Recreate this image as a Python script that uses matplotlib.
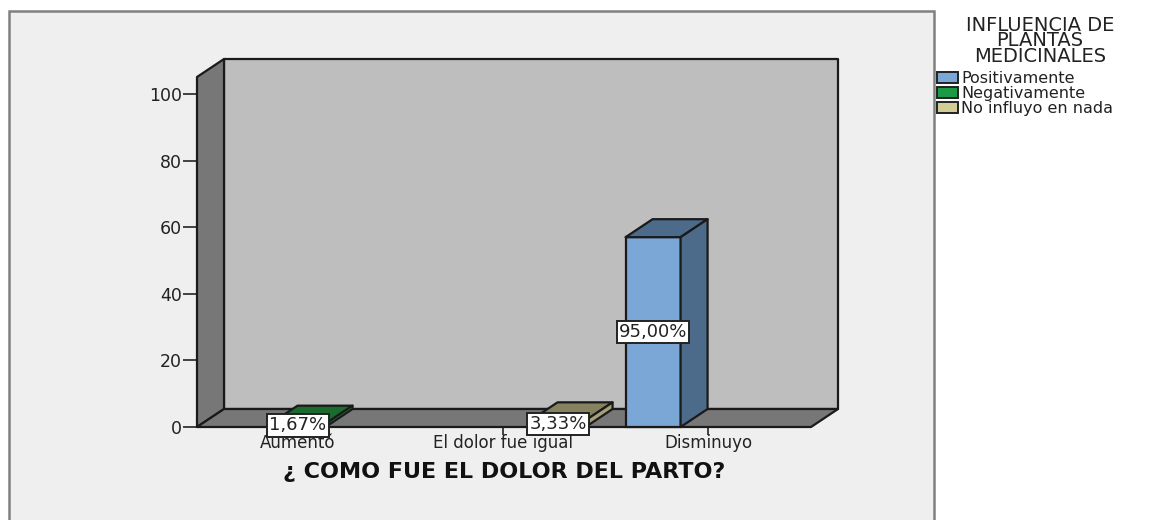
import matplotlib.pyplot as plt
from matplotlib.patches import Patch, Polygon, Rectangle

plt.rcParams['font.family'] = ['DejaVu Sans']

categories = ['Aumentó', 'El dolor fue igual', 'Disminuyo']
series_names = ['Positivamente', 'Negativamente', 'No influyo en nada']
positivamente = [0, 0, 57]
negativamente = [1, 0, 0]
no_influyo = [0, 2, 0]
pct_labels = {'Positivamente': [None, None, '95,00%'],
              'Negativamente': ['1,67%', None, None],
              'No influyo en nada': [None, '3,33%', None]}
y_ticks = [0, 20, 40, 60, 80, 100]

W, H = 1150, 520
front = ['#7ba7d7', '#1d9a45', '#d2cd96']
top = ['#4c6a8a', '#1c6b2e', '#86815e']
side = ['#4c6a8a', '#2b8040', '#a5a077']
dark = '#1a1a1a'

fig = plt.figure(figsize=(W / 100, H / 100), dpi=100, facecolor='white')

# outer frame
fig.add_artist(Rectangle((9 / W, -0.02), 925 / W, 1.02 - 11 / H, transform=fig.transFigure,
                         facecolor='#efefef', edgecolor='#808080', lw=1.8, zorder=-1))

ax = fig.add_axes([197 / W, (H - 427) / H, 614 / W, 350 / H])
ax.patch.set_visible(False)
xmin, xmax = -0.4927, 2.502
ymax = 350 / 3.33
ax.set_xlim(xmin, xmax)
ax.set_ylim(0, ymax)
for s in ax.spines.values():
    s.set_visible(False)

# depth of the fake 3d, in data units
dx = 27 / 205
dy = 18 / 3.33
bar_w = 55 / 205


def poly(pts, color, z):
    ax.add_patch(Polygon(pts, closed=True, facecolor=color, edgecolor=dark, lw=1.6,
                         zorder=z, clip_on=False, joinstyle='round'))


poly([(xmin + dx, dy), (xmax + dx, dy), (xmax + dx, ymax + dy), (xmin + dx, ymax + dy)], '#bebebe', 1)
poly([(xmin, 0), (xmin + dx, dy), (xmin + dx, ymax + dy), (xmin, ymax)], '#777777', 2)
poly([(xmin, 0), (xmax, 0), (xmax + dx, dy), (xmin + dx, dy)], '#777777', 2)

all_series = [positivamente, negativamente, no_influyo]
for j, vals in enumerate(all_series):
    name = series_names[j]
    for i, v in enumerate(vals):
        if v == 0:
            continue
        c = i + (j - 1) * bar_w
        l, r = c - bar_w / 2, c + bar_w / 2
        ax.bar(c, v, width=bar_w, color=front[j], edgecolor=dark, lw=1.6, zorder=3, clip_on=False)
        poly([(l, v), (r, v), (r + dx, v + dy), (l + dx, v + dy)], top[j], 3)
        poly([(r, 0), (r + dx, dy), (r + dx, v + dy), (r, v)], side[j], 3)
        ax.text(c, v / 2, pct_labels[name][i], ha='center', va='center', fontsize=13, color='#222222',
                zorder=5, bbox=dict(boxstyle='square,pad=0.12', fc='white', ec='#222222', lw=1.4))

ax.set_xticks(range(len(categories)))
ax.set_xticklabels(categories)
ax.set_yticks(y_ticks)
ax.tick_params(axis='x', length=6, width=1.3, color='#333333', labelsize=12, labelcolor='#222222', pad=-1)
ax.tick_params(axis='y', length=10, width=1.3, color='#333333', labelsize=12.5, labelcolor='#222222', pad=1)
ax.set_xlabel('¿ COMO FUE EL DOLOR DEL PARTO?', fontsize=16, fontweight='bold', color='#111111', labelpad=7)

# legend title sits centred over the column, so it is placed on its own
fig.text(1040 / W, 1 - 41 / H, 'INFLUENCIA DE\nPLANTAS\nMEDICINALES', ha='center', va='center',
         multialignment='center', fontsize=14, linespacing=0.78, color='#222222')

handles = [Patch(facecolor=front[k], edgecolor='#222222', lw=1.4) for k in range(3)]
leg = fig.legend(handles, series_names, loc='upper left', bbox_to_anchor=(935 / W, 1 - 69 / H),
                 frameon=False, fontsize=11.5, handlelength=1.3, handleheight=0.65,
                 handletextpad=0.2, labelspacing=0.0, borderpad=0.15, borderaxespad=0)
for t in leg.get_texts():
    t.set_color('#222222')

fig.savefig('out.png', dpi=100)
